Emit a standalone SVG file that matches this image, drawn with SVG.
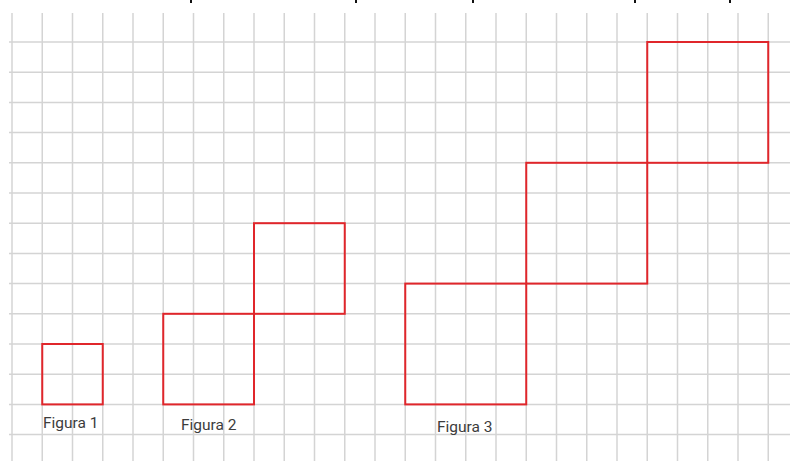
<svg xmlns="http://www.w3.org/2000/svg" width="790" height="461" viewBox="0 0 790 461">
<style>
.grid line{stroke:#d4d4d4;stroke-width:1.5}
.fig rect{fill:none;stroke:#e0262b;stroke-width:2}
.lbl{font-family:Roboto,"Liberation Sans",sans-serif;font-size:15.5px;fill:#3c3c3c}
.tick{fill:#111}
</style>
<rect width="790" height="461" fill="#fff"/>
<g class="tick">
<rect x="190" y="0" width="2" height="3"/>
<rect x="355" y="0" width="2" height="3"/>
<rect x="472" y="0" width="2" height="3"/>
<rect x="634" y="0" width="2" height="3"/>
<rect x="729" y="0" width="2" height="3"/>
</g>
<g class="grid" id="grid">
<line x1="12" y1="13" x2="12" y2="461"/>
<line x1="42.25" y1="13" x2="42.25" y2="461"/>
<line x1="72.5" y1="13" x2="72.5" y2="461"/>
<line x1="102.75" y1="13" x2="102.75" y2="461"/>
<line x1="133" y1="13" x2="133" y2="461"/>
<line x1="163.25" y1="13" x2="163.25" y2="461"/>
<line x1="193.5" y1="13" x2="193.5" y2="461"/>
<line x1="223.75" y1="13" x2="223.75" y2="461"/>
<line x1="254" y1="13" x2="254" y2="461"/>
<line x1="284.25" y1="13" x2="284.25" y2="461"/>
<line x1="314.5" y1="13" x2="314.5" y2="461"/>
<line x1="344.75" y1="13" x2="344.75" y2="461"/>
<line x1="375" y1="13" x2="375" y2="461"/>
<line x1="405.25" y1="13" x2="405.25" y2="461"/>
<line x1="435.5" y1="13" x2="435.5" y2="461"/>
<line x1="465.75" y1="13" x2="465.75" y2="461"/>
<line x1="496" y1="13" x2="496" y2="461"/>
<line x1="526.25" y1="13" x2="526.25" y2="461"/>
<line x1="556.5" y1="13" x2="556.5" y2="461"/>
<line x1="586.75" y1="13" x2="586.75" y2="461"/>
<line x1="617" y1="13" x2="617" y2="461"/>
<line x1="647.25" y1="13" x2="647.25" y2="461"/>
<line x1="677.5" y1="13" x2="677.5" y2="461"/>
<line x1="707.75" y1="13" x2="707.75" y2="461"/>
<line x1="738" y1="13" x2="738" y2="461"/>
<line x1="768.25" y1="13" x2="768.25" y2="461"/>
<line x1="9" y1="42" x2="790" y2="42"/>
<line x1="9" y1="72.2" x2="790" y2="72.2"/>
<line x1="9" y1="102.4" x2="790" y2="102.4"/>
<line x1="9" y1="132.6" x2="790" y2="132.6"/>
<line x1="9" y1="162.8" x2="790" y2="162.8"/>
<line x1="9" y1="193" x2="790" y2="193"/>
<line x1="9" y1="223.2" x2="790" y2="223.2"/>
<line x1="9" y1="253.4" x2="790" y2="253.4"/>
<line x1="9" y1="283.6" x2="790" y2="283.6"/>
<line x1="9" y1="313.8" x2="790" y2="313.8"/>
<line x1="9" y1="344" x2="790" y2="344"/>
<line x1="9" y1="374.2" x2="790" y2="374.2"/>
<line x1="9" y1="404.4" x2="790" y2="404.4"/>
<line x1="9" y1="434.6" x2="790" y2="434.6"/>
</g>
<g class="fig" id="figura1">
<rect x="42.25" y="344" width="60.5" height="60.4"/>
<text class="lbl" x="43" y="428">Figura 1</text>
</g>
<g class="fig" id="figura2">
<rect x="163.25" y="313.8" width="90.75" height="90.6"/>
<rect x="254" y="223.2" width="90.75" height="90.6"/>
<text class="lbl" x="181" y="430">Figura 2</text>
</g>
<g class="fig" id="figura3">
<rect x="405.25" y="283.6" width="121" height="120.8"/>
<rect x="526.25" y="162.8" width="121" height="120.8"/>
<rect x="647.25" y="42" width="121" height="120.8"/>
<text class="lbl" x="437" y="432">Figura 3</text>
</g>
</svg>
